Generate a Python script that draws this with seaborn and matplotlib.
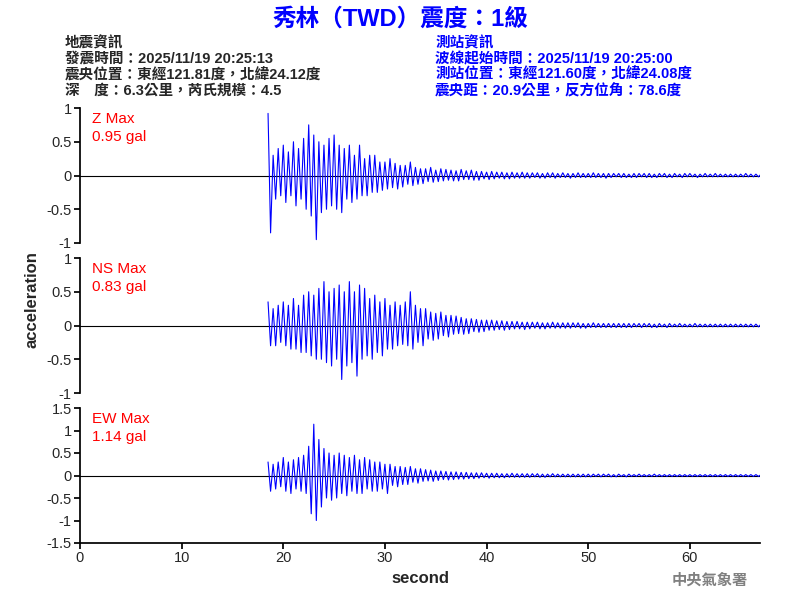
import numpy as np
import pandas as pd
import seaborn as sns
import matplotlib.pyplot as plt

sns.set_theme(style='white')
plt.rcParams['font.family'] = ['Liberation Sans', 'Noto Sans CJK TC', 'DejaVu Sans']

# waveform peaks, one value every 0.25 s starting at t0
t0 = 18.5
dt = 0.25
z_vals = [0.92, -0.85, 0.3, -0.35, 0.4, -0.3,
          0.45, -0.4, 0.35, -0.3, 0.5, -0.45, 0.4, -0.35,
          0.55, -0.5, 0.75, -0.6, 0.6, -0.95, 0.5, -0.55,
          0.45, -0.5, 0.55, -0.45, 0.6, -0.5, 0.45, -0.55,
          0.4, -0.35, 0.45, -0.4, 0.3, -0.35, 0.45, -0.3,
          0.25, -0.3, 0.3, -0.25, 0.3, -0.25, 0.2, -0.22,
          0.2, -0.2, 0.25, -0.18, 0.18, -0.2, 0.15, -0.17,
          0.15, -0.13, 0.2, -0.15, 0.12, -0.13, 0.1, -0.12,
          0.1, -0.09, 0.12, -0.1, 0.08, -0.09, 0.1, -0.08,
          0.09, -0.07, 0.08, -0.08, 0.07, -0.08, 0.09, -0.06,
          0.07, -0.06, 0.08, -0.07, 0.06, -0.07, 0.06, -0.05,
          0.05, -0.06, 0.06, -0.05, 0.05, -0.04, 0.05, -0.05,
          0.04, -0.05, 0.05, -0.04, 0.04, -0.04, 0.05, -0.04,
          0.04, -0.04, 0.04, -0.03, 0.04, -0.04, 0.03, -0.04,
          0.04, -0.03, 0.04, -0.04, 0.03, -0.03, 0.04, -0.03,
          0.03, -0.04, 0.03, -0.03, 0.04, -0.03, 0.03, -0.03,
          0.03, -0.03, 0.04, -0.03, 0.03, -0.03, 0.03, -0.04,
          0.03, -0.03, 0.03, -0.02, 0.03, -0.03, 0.03, -0.03,
          0.02, -0.03, 0.03, -0.03, 0.03, -0.02, 0.03, -0.03,
          0.03, -0.03, 0.02, -0.03, 0.03, -0.02, 0.03, -0.03,
          0.02, -0.03, 0.03, -0.02, 0.02, -0.03, 0.03, -0.02,
          0.03, -0.02, 0.02, -0.03, 0.02, -0.02, 0.03, -0.02,
          0.02, -0.02, 0.03, -0.02, 0.02, -0.02, 0.02, -0.02,
          0.02, -0.02, 0.02, -0.02, 0.02, -0.02, 0.03, -0.02,
          0.02, -0.02, 0.02, -0.02, 0.02]
ns_vals = [0.35, -0.3, 0.25, -0.3, 0.3, -0.25,
           0.35, -0.3, 0.3, -0.35, 0.4, -0.35, 0.3, -0.4,
           0.45, -0.4, 0.5, -0.45, 0.45, -0.5, 0.55, -0.5,
           0.65, -0.55, 0.5, -0.6, 0.55, -0.5, 0.6, -0.8,
           0.5, -0.6, 0.65, -0.55, 0.5, -0.75, 0.6, -0.5,
           0.55, -0.45, 0.4, -0.5, 0.45, -0.4, 0.35, -0.45,
           0.4, -0.35, 0.3, -0.35, 0.35, -0.3, 0.3, -0.28,
           0.35, -0.3, 0.5, -0.35, 0.3, -0.25, 0.25, -0.3,
           0.25, -0.2, 0.2, -0.22, 0.18, -0.2, 0.2, -0.15,
           0.15, -0.17, 0.15, -0.13, 0.14, -0.12, 0.12, -0.13,
           0.1, -0.12, 0.1, -0.09, 0.09, -0.1, 0.08, -0.09,
           0.08, -0.07, 0.08, -0.07, 0.07, -0.06, 0.07, -0.07,
           0.06, -0.06, 0.06, -0.05, 0.06, -0.05, 0.05, -0.06,
           0.05, -0.05, 0.05, -0.04, 0.05, -0.05, 0.04, -0.05,
           0.04, -0.04, 0.05, -0.04, 0.04, -0.04, 0.04, -0.04,
           0.04, -0.04, 0.04, -0.03, 0.04, -0.04, 0.03, -0.04,
           0.03, -0.03, 0.04, -0.03, 0.03, -0.03, 0.03, -0.03,
           0.03, -0.03, 0.03, -0.03, 0.03, -0.03, 0.03, -0.03,
           0.03, -0.03, 0.03, -0.02, 0.03, -0.03, 0.03, -0.02,
           0.03, -0.03, 0.02, -0.03, 0.03, -0.02, 0.02, -0.03,
           0.03, -0.02, 0.02, -0.02, 0.03, -0.02, 0.02, -0.02,
           0.02, -0.02, 0.03, -0.02, 0.02, -0.02, 0.02, -0.02,
           0.02, -0.02, 0.02, -0.02, 0.02, -0.02, 0.02, -0.02,
           0.02, -0.02, 0.02, -0.02, 0.02, -0.02, 0.02, -0.02,
           0.02, -0.02, 0.02, -0.02, 0.02]
ew_vals = [0.3, -0.35, 0.25, -0.3, 0.3, -0.25,
           0.4, -0.35, 0.3, -0.4, 0.35, -0.3, 0.4, -0.35,
           0.45, -0.4, 0.65, -0.85, 1.14, -1.0, 0.8, -0.7,
           0.6, -0.5, 0.5, -0.55, 0.45, -0.5, 0.5, -0.4,
           0.45, -0.45, 0.4, -0.35, 0.45, -0.4, 0.35, -0.4,
           0.4, -0.3, 0.35, -0.35, 0.3, -0.35, 0.3, -0.3,
           0.25, -0.4, 0.25, -0.22, 0.2, -0.25, 0.2, -0.2,
           0.18, -0.2, 0.2, -0.15, 0.15, -0.17, 0.15, -0.13,
           0.13, -0.12, 0.12, -0.13, 0.1, -0.11, 0.1, -0.09,
           0.09, -0.1, 0.08, -0.09, 0.08, -0.08, 0.07, -0.08,
           0.07, -0.07, 0.06, -0.07, 0.06, -0.06, 0.06, -0.05,
           0.05, -0.06, 0.05, -0.05, 0.05, -0.05, 0.04, -0.05,
           0.04, -0.04, 0.05, -0.04, 0.04, -0.04, 0.04, -0.04,
           0.04, -0.04, 0.04, -0.03, 0.04, -0.04, 0.03, -0.04,
           0.03, -0.03, 0.04, -0.03, 0.03, -0.03, 0.03, -0.03,
           0.03, -0.03, 0.03, -0.03, 0.03, -0.03, 0.03, -0.03,
           0.03, -0.03, 0.03, -0.02, 0.03, -0.03, 0.03, -0.02,
           0.03, -0.03, 0.02, -0.03, 0.03, -0.02, 0.02, -0.03,
           0.03, -0.02, 0.02, -0.02, 0.03, -0.02, 0.02, -0.02,
           0.02, -0.02, 0.03, -0.02, 0.02, -0.02, 0.02, -0.02,
           0.02, -0.02, 0.02, -0.02, 0.02, -0.02, 0.02, -0.02,
           0.02, -0.02, 0.02, -0.02, 0.02, -0.02, 0.02, -0.02,
           0.02, -0.02, 0.02, -0.02, 0.02, -0.02, 0.02, -0.02,
           0.02, -0.02, 0.02, -0.02, 0.02, -0.02, 0.02, -0.02,
           0.02, -0.02, 0.02, -0.02, 0.02]

comp_labels = ['Z Max\n0.95 gal', 'NS Max\n0.83 gal', 'EW Max\n1.14 gal']
y_limits = [(-1, 1), (-1, 1), (-1.5, 1.5)]
y_ticks = [[-1, -0.5, 0, 0.5, 1], [-1, -0.5, 0, 0.5, 1], [-1.5, -1, -0.5, 0, 0.5, 1, 1.5]]
x_max = 66.9

fig = plt.figure(figsize=(8, 6), dpi=100)
boxes = [[0.1, 0.595, 0.85, 0.225], [0.1, 0.345, 0.85, 0.225], [0.1, 0.095, 0.85, 0.225]]

for i, vals in enumerate([z_vals, ns_vals, ew_vals]):
    ax = fig.add_axes(boxes[i])
    df = pd.DataFrame({'t': t0 + dt * np.arange(len(vals)), 'a': vals})
    ax.axhline(0, color='black', lw=0.8, zorder=1)
    sns.lineplot(data=df, x='t', y='a', ax=ax, color='blue', lw=0.8, zorder=2)
    ax.set_xlim(0, x_max)
    ax.set_ylim(*y_limits[i])
    ax.set_yticks(y_ticks[i])
    ax.set_yticklabels([('%g' % v) for v in y_ticks[i]], fontsize=10.5)
    ax.set_ylabel('')
    ax.set_xlabel('')
    ax.text(0.018, 0.97, comp_labels[i], transform=ax.transAxes, color='red',
            fontsize=11, va='top', linespacing=1.4)
    for s in ['top', 'right']:
        ax.spines[s].set_visible(False)
    ax.spines['left'].set_color('black')
    ax.tick_params(left=True, length=4, color='black', pad=2)
    if i < 2:
        ax.spines['bottom'].set_visible(False)
        ax.set_xticks([])
    else:
        ax.spines['bottom'].set_color('black')
        ax.set_xticks([0, 10, 20, 30, 40, 50, 60])
        ax.tick_params(bottom=True, labelsize=10.5)
        ax.set_xlabel('second', fontsize=12, weight='bold')

fig.text(0.04, 0.5, 'acceleration', rotation=90, fontsize=12, weight='bold', va='center', ha='center')

fig.text(0.5, 0.968, '秀林（TWD）震度：1級', color='blue', fontsize=17, weight='bold',
         ha='center', va='center')
left_lines = ['地震資訊', '發震時間：2025/11/19 20:25:13',
              '震央位置：東經121.81度，北緯24.12度', '深　度：6.3公里，芮氏規模：4.5']
right_lines = ['測站資訊', '波線起始時間：2025/11/19 20:25:00',
               '測站位置：東經121.60度，北緯24.08度', '震央距：20.9公里，反方位角：78.6度']
for k in range(4):
    y = 1 - (43 + 16 * k) / 600
    fig.text(0.081, y, left_lines[k], fontsize=10.5, weight='bold', va='center')
    fig.text(0.544, y, right_lines[k], fontsize=10.5, weight='bold', va='center', color='blue')

fig.text(0.935, 0.032, '中央氣象署', color='gray', fontsize=11, weight='bold', ha='right', va='center')

fig.savefig('out.png', dpi=100, facecolor='white')
